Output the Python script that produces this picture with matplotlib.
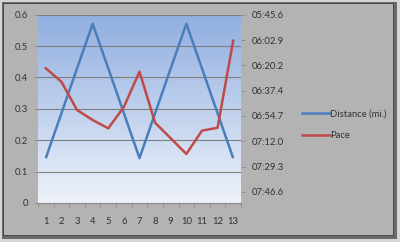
import matplotlib
matplotlib.use("Agg")
import matplotlib.pyplot as plt
import numpy as np
from matplotlib.patches import Rectangle
from matplotlib.lines import Line2D

runs = list(range(1, 14))
distance = [0.143, 0.286, 0.429, 0.571, 0.429, 0.286, 0.143, 0.286, 0.429, 0.571, 0.429, 0.286, 0.143]
pace = ["06:22.2", "06:31.4", "06:50.7", "06:57.5", "07:03.2", "06:48.6", "06:24.5",
        "06:59.4", "07:10.0", "07:20.7", "07:04.8", "07:02.8", "06:03.4"]
left_ticks = [0, 0.1, 0.2, 0.3, 0.4, 0.5, 0.6]
left_labels = ["0", "0.1", "0.2", "0.3", "0.4", "0.5", "0.6"]
right_labels = ["05:45.6", "06:02.9", "06:20.2", "06:37.4", "06:54.7", "07:12.0", "07:29.3", "07:46.6"]
series_names = ["Distance (mi.)", "Pace"]

def to_sec(s):
    m, r = s.split(":")
    return int(m) * 60 + float(r)

pace_sec = [to_sec(p) for p in pace]
right_ticks = [to_sec(t) for t in right_labels]

FONT = "Lato"
FS = 6.8
TXT = "#333333"
BLUE = "#4a7ebb"
RED = "#be4b48"

fig = plt.figure(figsize=(4.0, 2.42), dpi=100)
fig.patch.set_facecolor("#b3b3b3")

W, H = 400, 242
def frect(x, y, w, h, fc):
    fig.patches.append(Rectangle((x / W, 1 - (y + h) / H), w / W, h / H, transform=fig.transFigure,
                                 facecolor=fc, edgecolor="none", linewidth=0, zorder=-5))
frect(0, 0, 400, 242, "#d6d6d6")
frect(2, 2, 395, 237, "#6a6a6a")
frect(3, 3, 391, 233, "#4a4a4a")
frect(3.5, 3.5, 389, 231, "#b3b3b3")

ax = fig.add_axes([38 / W, 1 - 203 / H, (241 - 38) / W, (203 - 14.7) / H])
ax.set_xlim(0.5, 13.5)
ax.set_ylim(0, 0.6)

top = np.array([144, 174, 224]) / 255
bot = np.array([238, 242, 250]) / 255
t = np.linspace(0, 1, 256)[:, None]
grad = (top * (1 - t) + bot * t)[:, None, :]
ax.imshow(grad, extent=[0, 1, 0, 1], transform=ax.transAxes, aspect="auto", zorder=0)

for yv in left_ticks[1:]:
    ax.axhline(yv, color="#7f7f7f", lw=0.8, zorder=1)

for s in ax.spines.values():
    s.set_visible(False)

ax.plot(runs, distance, color=BLUE, lw=1.8, zorder=3, solid_capstyle="butt")

ax.set_yticks(left_ticks)
ax.set_yticklabels(left_labels)
ax.set_xticks(runs)
ax.set_xticks(np.arange(0.5, 14, 1), minor=True)
ax.tick_params(axis="x", which="major", length=0, pad=10, labelsize=FS, colors=TXT)
ax.tick_params(axis="x", which="minor", length=3, color="#8a8a8a", width=0.6)
ax.tick_params(axis="y", length=3, color="#8a8a8a", width=0.6, pad=4, labelsize=FS, colors=TXT)
ax.plot([0, 1], [0, 0], transform=ax.transAxes, color="#8a8a8a", lw=0.8, clip_on=False, zorder=2)
for lab in ax.get_xticklabels() + ax.get_yticklabels():
    lab.set_fontfamily(FONT)

ax2 = ax.twinx()
ax2.set_ylim(474.2, 345.6)
ax2.plot(runs, pace_sec, color=RED, lw=1.8, zorder=3)
for s in ax2.spines.values():
    s.set_visible(False)
ax2.set_yticks(right_ticks)
ax2.set_yticklabels(right_labels)
ax2.tick_params(axis="y", length=3, color="#8a8a8a", width=0.6, pad=5, labelsize=FS, colors=TXT)
for lab in ax2.get_yticklabels():
    lab.set_fontfamily(FONT)

handles = [Line2D([], [], color=BLUE, lw=1.8), Line2D([], [], color=RED, lw=1.8)]
fig.legend(handles, series_names, loc="upper left", bbox_to_anchor=(297 / W, 1 - 105 / H),
           frameon=False, prop={"family": FONT, "size": FS}, labelcolor=TXT,
           handlelength=3.0, handletextpad=0.0, labelspacing=1.3, borderpad=0)

fig.savefig("out.png", dpi=100, facecolor=fig.get_facecolor())
